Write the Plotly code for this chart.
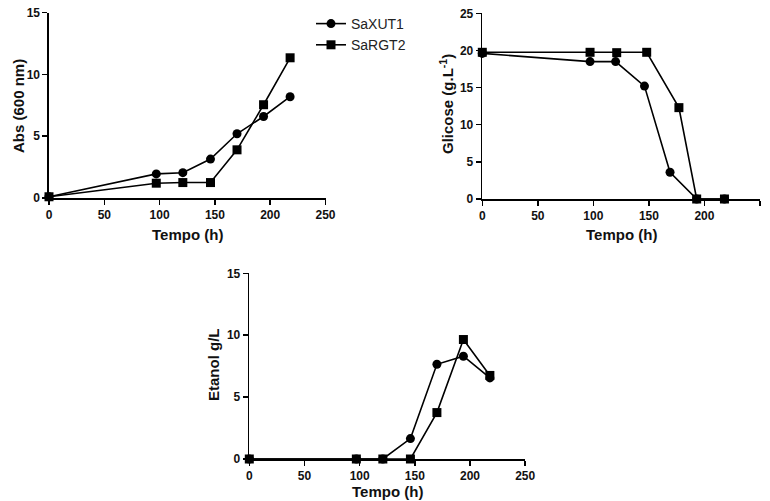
import plotly.graph_objects as go

W, H = 770, 501

# ---------------- data ----------------
series_names = ["SaXUT1", "SaRGT2"]

# Absorbance (600 nm)
abs_t_xut1 = [0, 97, 121, 146, 170, 194, 218]
abs_xut1 = [0.1, 1.95, 2.05, 3.15, 5.2, 6.6, 8.2]
abs_t_rgt2 = [0, 97, 121, 146, 170, 194, 218]
abs_rgt2 = [0.1, 1.2, 1.25, 1.25, 3.9, 7.55, 11.35]

# Glicose (g/L)
gli_t_xut1 = [0, 97, 120, 146, 169, 193, 218]
gli_xut1 = [19.6, 18.5, 18.5, 15.2, 3.6, 0, 0]
gli_t_rgt2 = [0, 97, 121, 148, 177, 193, 218]
gli_rgt2 = [19.75, 19.75, 19.7, 19.75, 12.3, 0, 0]

# Etanol (g/L)
eta_t_xut1 = [0, 97, 121, 146, 170, 194, 218]
eta_xut1 = [0, 0, 0, 1.65, 7.65, 8.3, 6.55]
eta_t_rgt2 = [0, 97, 121, 146, 170, 194, 218]
eta_rgt2 = [0, 0, 0, 0, 3.75, 9.65, 6.75]

x_ticks = [0, 50, 100, 150, 200, 250]
abs_ticks = [0, 5, 10, 15]
gli_ticks = [0, 5, 10, 15, 20, 25]
eta_ticks = [0, 5, 10, 15]

x_title = "Tempo (h)"
abs_title = "Abs (600 nm)"
gli_title = "Glicose (g.L<sup>-1</sup>)"
eta_title = "Etanol g/L"

# ---------------- layout helpers (pixels -> paper) ----------------
def px_x(p):
    return p / W

def px_y(p):
    return 1 - p / H

FONT = "Liberation Sans, Arial, sans-serif"
INK = "#111111"

fig = go.Figure()

symbols = ["circle", "square"]
panels = [
    ("x", "y", [(abs_t_xut1, abs_xut1), (abs_t_rgt2, abs_rgt2)]),
    ("x2", "y2", [(gli_t_xut1, gli_xut1), (gli_t_rgt2, gli_rgt2)]),
    ("x3", "y3", [(eta_t_xut1, eta_xut1), (eta_t_rgt2, eta_rgt2)]),
]
for pi, (xa, ya, data) in enumerate(panels):
    for si, (tx, vy) in enumerate(data):
        fig.add_trace(go.Scatter(
            x=tx, y=vy, xaxis=xa, yaxis=ya,
            mode="lines+markers",
            name=series_names[si],
            legendgroup=series_names[si],
            showlegend=(pi == 0),
            line=dict(color="black", width=1.6),
            marker=dict(symbol=symbols[si], size=9, color="black",
                        line=dict(width=0)),
            cliponaxis=False,
        ))

def xaxis_cfg(x0, x1, y_anchor):
    return dict(
        domain=[px_x(x0), px_x(x1)], anchor=y_anchor,
        range=[0, 250], tickvals=x_ticks,
        showline=True, linecolor="black", linewidth=1.6,
        ticks="outside", ticklen=5, tickwidth=1.5, tickcolor="black",
        showgrid=False, zeroline=False, automargin=False,
        tickfont=dict(family=FONT, size=12, color=INK, weight="bold"),
        fixedrange=True,
    )

def yaxis_cfg(y0, y1, x_anchor, rng, ticks):
    return dict(
        domain=[px_y(y0), px_y(y1)], anchor=x_anchor,
        range=rng, tickvals=ticks,
        showline=True, linecolor="black", linewidth=1.6,
        ticks="outside", ticklen=5, tickwidth=1.5, tickcolor="black",
        showgrid=False, zeroline=False, automargin=False,
        tickfont=dict(family=FONT, size=12, color=INK, weight="bold"),
        fixedrange=True,
    )

# pixel extents of each plot area (left, right, bottom, top)
P1 = (49, 325.5, 198, 12.7)
P2 = (482.3, 760, 199, 13.3)
P3 = (249.3, 525.2, 459, 273.3)

fig.update_layout(
    width=W, height=H,
    margin=dict(l=0, r=0, t=0, b=0),
    paper_bgcolor="white", plot_bgcolor="white",
    xaxis=xaxis_cfg(P1[0], P1[1], "y"),
    yaxis=yaxis_cfg(P1[2], P1[3], "x", [0, 15], abs_ticks),
    xaxis2=xaxis_cfg(P2[0], P2[1], "y2"),
    yaxis2=yaxis_cfg(P2[2], P2[3], "x2", [0, 25], gli_ticks),
    xaxis3=xaxis_cfg(P3[0], P3[1], "y3"),
    yaxis3=yaxis_cfg(P3[2], P3[3], "x3", [0, 15], eta_ticks),
    showlegend=True,
    legend=dict(
        x=px_x(311), y=px_y(8), xanchor="left", yanchor="top",
        font=dict(family=FONT, size=14, color="#222222"),
        bgcolor="rgba(0,0,0,0)", borderwidth=0,
        tracegroupgap=0,
    ),
)

def title_ann(text, cx, cy, angle=0):
    fig.add_annotation(
        text=text, x=px_x(cx), y=px_y(cy), xref="paper", yref="paper",
        xanchor="center", yanchor="middle", showarrow=False,
        textangle=angle,
        font=dict(family=FONT, size=15, color=INK, weight="bold"),
    )

title_ann(x_title, 187, 235)
title_ann(x_title, 621, 235)
title_ann(x_title, 387, 491)
title_ann(abs_title, 18, 106, -90)
title_ann(gli_title, 447, 104, -90)
title_ann(eta_title, 213, 364, -90)

fig.write_html(
    "out.html",
    config={"displayModeBar": False, "staticPlot": True},
    post_script="document.body.style.margin='0px';"
                "document.documentElement.style.overflow='hidden';",
)
